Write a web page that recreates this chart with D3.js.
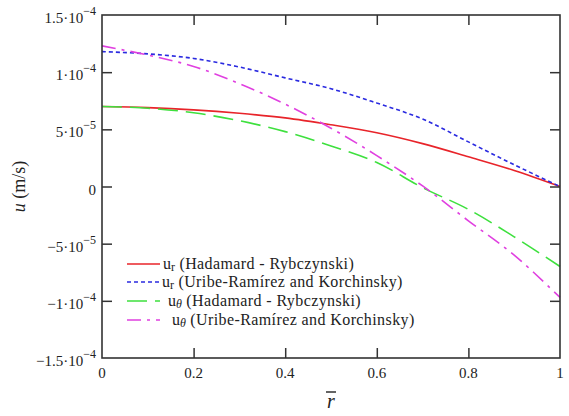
<!DOCTYPE html>
<html>
<head>
<meta charset="utf-8">
<script src="https://cdn.jsdelivr.net/npm/d3@7"></script>
</head>
<body style="margin:0">
<svg id="chart" width="569" height="416"></svg>
<script>
// r-bar positions where curves were read
const rBar = [0, 0.1, 0.2, 0.3, 0.4, 0.5, 0.6, 0.7, 0.8, 0.9, 1.0];
// velocity components (m/s)
const urHadamard = [7.0e-5, 6.9e-5, 6.7e-5, 6.4e-5, 6.0e-5, 5.4e-5, 4.7e-5, 3.75e-5, 2.6e-5, 1.4e-5, 0];
const urUribe = [11.8e-5, 11.6e-5, 11.2e-5, 10.45e-5, 9.5e-5, 8.55e-5, 7.3e-5, 5.9e-5, 3.9e-5, 1.9e-5, 0];
const uthHadamard = [7.0e-5, 6.85e-5, 6.45e-5, 5.75e-5, 4.8e-5, 3.55e-5, 2.1e-5, -0.1e-5, -2.0e-5, -4.4e-5, -7.0e-5];
const uthUribe = [12.3e-5, 11.5e-5, 10.5e-5, 9.0e-5, 7.2e-5, 5.1e-5, 2.7e-5, 0.05e-5, -3.0e-5, -6.0e-5, -9.7e-5];

const xTicks = [0, 0.2, 0.4, 0.6, 0.8, 1];
const xTickLabels = ["0", "0.2", "0.4", "0.6", "0.8", "1"];
const yTicks = [1.5e-4, 1e-4, 5e-5, 0, -5e-5, -1e-4, -1.5e-4];
const yTickMant = ["1.5\u00b710", "1\u00b710", "5\u00b710", "0", "\u22125\u00b710", "\u22121\u00b710", "\u22121.5\u00b710"];
const yTickExp = ["\u22124", "\u22124", "\u22125", "", "\u22125", "\u22124", "\u22124"];

const series = [
  { name: "r", label: "(Hadamard - Rybczynski)", values: urHadamard, color: "#e8242a", dash: null },
  { name: "r", label: "(Uribe-Ram\u00edrez and Korchinsky)", values: urUribe, color: "#2a2ae0", dash: "4,3" },
  { name: "\u03b8", label: "(Hadamard - Rybczynski)", values: uthHadamard, color: "#3ee03e", dash: "20,8" },
  { name: "\u03b8", label: "(Uribe-Ram\u00edrez and Korchinsky)", values: uthUribe, color: "#e040e0", dash: "14,6,3,6" }
];

const margin = { left: 102, right: 9, top: 15, bottom: 58 };
const svg = d3.select("#chart");
const W = +svg.attr("width"), H = +svg.attr("height");
const w = W - margin.left - margin.right, h = H - margin.top - margin.bottom;

const x = d3.scaleLinear().domain([0, 1]).range([0, w]);
const y = d3.scaleLinear().domain([-1.5e-4, 1.5e-4]).range([h, 0]);

const g = svg.append("g").attr("transform", `translate(${margin.left},${margin.top})`);

// curves
const line = d3.line().x((d, i) => x(rBar[i])).y(d => y(d)).curve(d3.curveCatmullRom.alpha(0.5));
g.selectAll(".curve").data(series).enter().append("path")
  .attr("class", "curve")
  .attr("d", d => line(d.values))
  .attr("fill", "none")
  .attr("stroke", d => d.color)
  .attr("stroke-width", 1.6)
  .attr("stroke-dasharray", d => d.dash);

// frame with inward ticks on all sides
const axisColor = "#333";
const inner = [0.2, 0.4, 0.6, 0.8];
const yInner = [1e-4, 5e-5, 0, -5e-5, -1e-4];
g.append("g").attr("transform", `translate(0,${h})`)
  .call(d3.axisBottom(x).tickValues(inner).tickSizeInner(-10).tickSizeOuter(0).tickFormat(""));
g.append("g")
  .call(d3.axisTop(x).tickValues(inner).tickSizeInner(-10).tickSizeOuter(0).tickFormat(""));
g.append("g")
  .call(d3.axisLeft(y).tickValues(yInner).tickSizeInner(-10).tickSizeOuter(0).tickFormat(""));
g.append("g").attr("transform", `translate(${w},0)`)
  .call(d3.axisRight(y).tickValues(yInner).tickSizeInner(-10).tickSizeOuter(0).tickFormat(""));
g.selectAll(".domain").remove();
g.selectAll(".tick line").attr("stroke", axisColor).attr("stroke-width", 1.5);
g.append("rect").attr("width", w).attr("height", h)
  .attr("fill", "none").attr("stroke", axisColor).attr("stroke-width", 1.6);

// x tick labels
g.selectAll(".xlab").data(xTicks).enter().append("text")
  .attr("x", d => x(d)).attr("y", h + 20)
  .attr("text-anchor", "middle").attr("font-size", 15).attr("fill", "#222")
  .text((d, i) => xTickLabels[i]);

// y tick labels with exponents
const ylab = g.selectAll(".ylab").data(yTicks).enter().append("text")
  .attr("x", -6).attr("y", d => y(d) + 8)
  .attr("text-anchor", "end").attr("font-size", 15).attr("fill", "#222");
ylab.append("tspan").text((d, i) => yTickMant[i]);
ylab.append("tspan").attr("dy", -8).attr("font-size", 12).text((d, i) => yTickExp[i]);

// axis titles
svg.append("text")
  .attr("x", margin.left + x(0.5)).attr("y", 408)
  .attr("text-anchor", "middle").attr("font-size", 20).attr("font-style", "italic").attr("fill", "#222").text("r");
svg.append("line").attr("x1", margin.left + x(0.5) - 5).attr("x2", margin.left + x(0.5) + 5)
  .attr("y1", 392).attr("y2", 392).attr("stroke", "#222").attr("stroke-width", 1.4);

const yt = svg.append("text")
  .attr("transform", `translate(25,${margin.top + y(0)}) rotate(-90)`)
  .attr("text-anchor", "middle").attr("font-size", 18).attr("fill", "#222");
yt.append("tspan").attr("font-style", "italic").text("u");
yt.append("tspan").text(" (m/s)");

// legend
const legY = [264, 282, 301, 320];
const legTextX = [163, 162, 168, 172];
const leg = svg.append("g");
series.forEach((s, i) => {
  leg.append("line").attr("x1", 127).attr("x2", 160).attr("y1", legY[i]).attr("y2", legY[i])
    .attr("stroke", s.color).attr("stroke-width", 1.6).attr("stroke-dasharray", s.dash);
  const t = leg.append("text")
    .attr("x", legTextX[i]).attr("y", legY[i] + 5)
    .attr("font-size", 16).attr("fill", "#222");
  t.append("tspan").text("u");
  t.append("tspan").attr("dy", 2).attr("font-size", 12).attr("font-style", s.name === "\u03b8" ? "italic" : null).text(s.name);
  t.append("tspan").attr("dy", -2).attr("letter-spacing", 0.4).text(" " + s.label);
});

// serif face for every label
svg.selectAll("text").style("font-family", "'Liberation Serif'");
</script>
</body>
</html>
